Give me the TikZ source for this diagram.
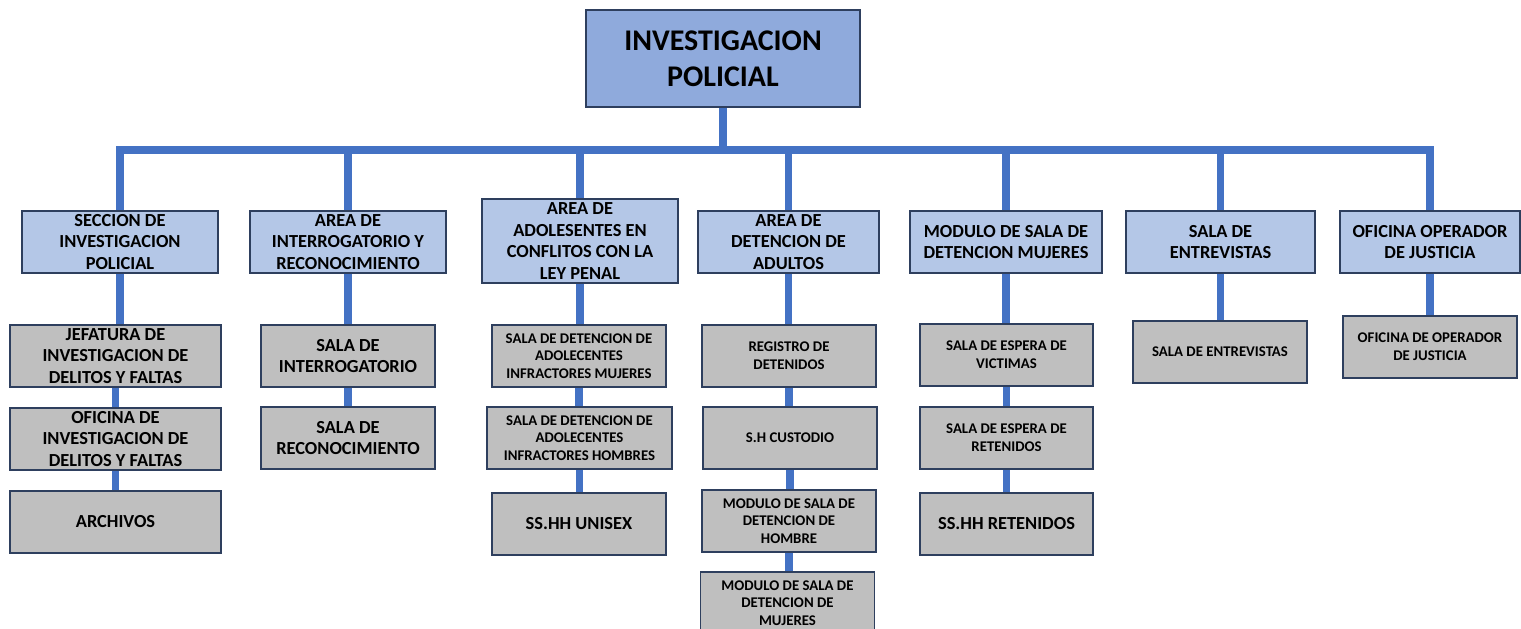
\documentclass[tikz,border=0pt]{standalone}
\usepackage{fontspec}
\setmainfont{Carlito}
\usetikzlibrary{backgrounds}
\definecolor{topfill}{HTML}{8FAADC}
\definecolor{lvfill}{HTML}{B4C7E7}
\definecolor{grfill}{HTML}{BFBFBF}
\definecolor{edgec}{HTML}{2E3F5E}
\definecolor{connc}{HTML}{4472C4}
\tikzset{
  box/.style={draw=edgec, line width=1.3pt, align=center, inner sep=0pt, minimum height=62pt},
  topbox/.style={box, fill=topfill, minimum width=274pt, minimum height=97pt,
     font=\fontsize{30}{36}\selectfont\bfseries},
  lvone/.style={box, fill=lvfill, font=\fontsize{18.4}{21.7}\selectfont\bfseries},
  lvtwo/.style={box, fill=grfill, font=\fontsize{18.4}{21.7}\selectfont\bfseries},
  lvsmall/.style={box, fill=grfill, font=\fontsize{14.8}{17.7}\selectfont\bfseries},
  conn/.style={draw=connc, line width=7.5pt},
}
\begin{document}
\begin{tikzpicture}[x=1pt, y=-1pt]
\useasboundingbox (0,0) rectangle (1521,629);
% top
\node[topbox] (top) at (723,58.5) {INVESTIGACION\\POLICIAL};
\coordinate (bl) at (116,150);
\coordinate (br) at (1434,150);
% level 1
\node[lvone, minimum width=196pt] (s1) at (120,242) {SECCION DE\\INVESTIGACION\\POLICIAL};
\node[lvone, minimum width=196pt] (s2) at (348,242) {AREA DE\\INTERROGATORIO Y\\RECONOCIMIENTO};
\node[lvone, minimum width=196pt, minimum height=84pt] (s3) at (580,241) {AREA DE\\ADOLESENTES EN\\CONFLITOS CON LA\\LEY PENAL};
\node[lvone, minimum width=181pt] (s4) at (788.5,242) {AREA DE\\DETENCION DE\\ADULTOS};
\node[lvone, minimum width=192pt] (s5) at (1006,242) {MODULO DE SALA DE\\DETENCION MUJERES};
\node[lvone, minimum width=189pt] (s6) at (1220.5,242) {SALA DE\\ENTREVISTAS};
\node[lvone, minimum width=180pt] (s7) at (1430,242) {OFICINA OPERADOR\\DE JUSTICIA};
% column 1
\node[lvtwo, minimum width=211pt] (a1) at (115.5,356) {JEFATURA DE\\INVESTIGACION DE\\DELITOS Y FALTAS};
\node[lvtwo, minimum width=211pt] (a2) at (115.5,439) {OFICINA DE\\INVESTIGACION DE\\DELITOS Y FALTAS};
\node[lvtwo, minimum width=211pt] (a3) at (115.5,522) {ARCHIVOS};
% column 2
\node[lvtwo, minimum width=174pt] (b1) at (348,356) {SALA DE\\INTERROGATORIO};
\node[lvtwo, minimum width=174pt] (b2) at (348,438) {SALA DE\\RECONOCIMIENTO};
% column 3
\node[lvsmall, minimum width=174pt] (c1) at (579,356) {SALA DE DETENCION DE\\ADOLECENTES\\INFRACTORES MUJERES};
\node[lvsmall, minimum width=185pt] (c2) at (579.5,438) {SALA DE DETENCION DE\\ADOLECENTES\\INFRACTORES HOMBRES};
\node[lvtwo, minimum width=174pt] (c3) at (579,524) {SS.HH UNISEX};
% column 4
\node[lvsmall, minimum width=174pt] (d1) at (789,356) {REGISTRO DE\\DETENIDOS};
\node[lvsmall, minimum width=174pt] (d2) at (790,438) {S.H CUSTODIO};
\node[lvsmall, minimum width=174pt] (d3) at (789,521) {MODULO DE SALA DE\\DETENCION DE\\HOMBRE};
\node[lvsmall, minimum width=174pt] (d4) at (787.5,603) {MODULO DE SALA DE\\DETENCION DE\\MUJERES};
% column 5
\node[lvsmall, minimum width=173pt] (e1) at (1006.5,355) {SALA DE ESPERA DE\\VICTIMAS};
\node[lvsmall, minimum width=173pt] (e2) at (1006.5,438) {SALA DE ESPERA DE\\RETENIDOS};
\node[lvtwo, minimum width=173pt] (e3) at (1006.5,524) {SS.HH RETENIDOS};
% column 6
\node[lvsmall, minimum width=174pt] (f1) at (1220,352) {SALA DE ENTREVISTAS};
% column 7
\node[lvsmall, minimum width=174pt] (g1) at (1430,347) {OFICINA DE OPERADOR\\DE JUSTICIA};
% connectors
\begin{pgfonlayer}{background}
\draw[conn] (bl) -- (br);
\draw[conn] (top.south) -- (top.south |- bl);
\foreach \n in {s1,s2,s3,s4,s5,s6,s7}
  \draw[conn] (\n.north) -- ([yshift=3.75pt]\n.north |- bl);
\draw[conn] (s1.south) -- (s1.south |- a1.north);
\draw[conn] (a1.south) -- (a1.south |- a2.north);
\draw[conn] (a2.south) -- (a2.south |- a3.north);
\draw[conn] (s2.south) -- (s2.south |- b1.north);
\draw[conn] (b1.south) -- (b1.south |- b2.north);
\draw[conn] (s3.south) -- (s3.south |- c1.north);
\draw[conn] (c1.south) -- (c1.south |- c2.north);
\draw[conn] (c2.south) -- (c2.south |- c3.north);
\draw[conn] (s4.south) -- (s4.south |- d1.north);
\draw[conn] (d1.south) -- (d1.south |- d2.north);
\draw[conn] (d2.south) -- (d2.south |- d3.north);
\draw[conn] (d3.south) -- (d3.south |- d4.north);
\draw[conn] (s5.south) -- (s5.south |- e1.north);
\draw[conn] (e1.south) -- (e1.south |- e2.north);
\draw[conn] (e2.south) -- (e2.south |- e3.north);
\draw[conn] (s6.south) -- (s6.south |- f1.north);
\draw[conn] (s7.south) -- (s7.south |- g1.north);
\end{pgfonlayer}
\end{tikzpicture}
\end{document}
